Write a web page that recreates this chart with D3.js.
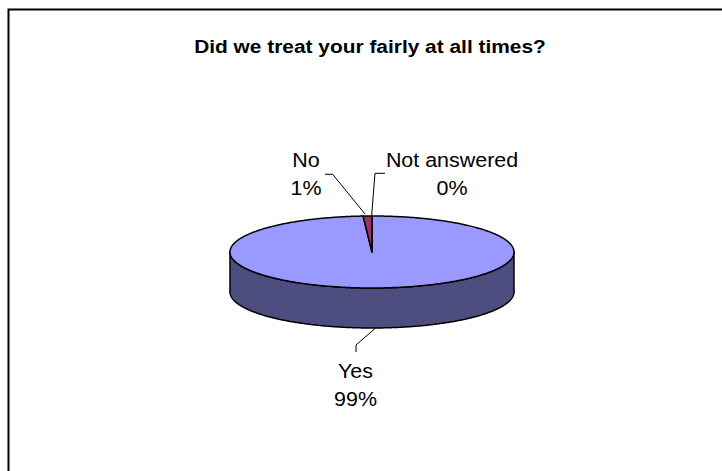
<!DOCTYPE html>
<html><head><meta charset="utf-8">
<script src="https://cdn.jsdelivr.net/npm/d3@7"></script>
<style>html,body{margin:0;padding:0;background:#fff;}svg{display:block;}</style>
</head><body>
<svg id="c" width="722" height="471"></svg>
<script>
const title = "Did we treat your fairly at all times?";
const categories = ["Yes", "No", "Not answered"];
const values = [99, 1, 0];
const percentLabels = ["99%", "1%", "0%"];
const topColors = ["#9999FF", "#993366", "#FFFFCC"];
const sideColors = ["#4D4D80", "#4D1A33", "#808066"];

const svg = d3.select("#c");
const cx = 372, cy = 252, rx = 142, ry = 36, depth = 40;
const FONT = "Arial, 'Liberation Sans', sans-serif";

// frame
svg.append("path").attr("d", "M8.5,480 V9.5 H730").attr("fill", "none")
  .attr("stroke", "#000").attr("stroke-width", 2);

// title
svg.append("text").attr("transform", `translate(370,53) scale(1.13,1)`)
  .attr("text-anchor", "middle").attr("font-family", FONT).attr("font-weight", "bold")
  .attr("font-size", 18.5).attr("fill", "#000").text(title);

const pie = d3.pie().sort(null).value(d => d);
const arcs = pie(values);
const px = a => cx + rx * Math.sin(a);
const py = a => cy - ry * Math.cos(a);

function sample(a0, a1) {
  const n = Math.max(2, Math.ceil(Math.abs(a1 - a0) / 0.01));
  const s = d3.scaleLinear().domain([0, n]).range([a0, a1]);
  return d3.range(n + 1).map(i => s(i));
}
const line = d3.line();

// side walls (front half: PI/2..3PI/2)
const g = svg.append("g");
arcs.forEach((d, i) => {
  const a0 = Math.max(d.startAngle, Math.PI / 2), a1 = Math.min(d.endAngle, 3 * Math.PI / 2);
  if (a1 <= a0) return;
  const top = sample(a0, a1).map(a => [px(a), py(a)]);
  const bot = sample(a1, a0).map(a => [px(a), py(a) + depth]);
  g.append("path").attr("d", line(top.concat(bot)) + "Z")
    .attr("fill", sideColors[i]).attr("stroke", "#000").attr("stroke-width", 1.5)
    .attr("stroke-linejoin", "round");
});
// top faces
arcs.forEach((d, i) => {
  if (d.endAngle - d.startAngle <= 0) return;
  const pts = [[cx, cy]].concat(sample(d.startAngle, d.endAngle).map(a => [px(a), py(a)]));
  g.append("path").attr("d", line(pts) + "Z")
    .attr("fill", topColors[i]).attr("stroke", "#000").attr("stroke-width", 1.5)
    .attr("stroke-linejoin", "round");
});

// labels & leader lines
const labelPos = [
  { x: 355.5, y: 378, leader: [[356, 352], [356, 345], [375, 328.5]] },
  { x: 306, y: 167, leader: [[325, 174.3], [332.7, 174.3], [365, 214]] },
  { x: 452, y: 167, leader: [[385, 173.3], [375, 173.3], [371.7, 215]] }
];
categories.forEach((c, i) => {
  const p = labelPos[i];
  svg.append("path").attr("d", line(p.leader)).attr("fill", "none")
    .attr("stroke", "#000").attr("stroke-width", 1);
  const t = svg.append("text").attr("transform", `translate(${p.x},${p.y}) scale(1.1,1)`)
    .attr("text-anchor", "middle").attr("font-family", FONT).attr("font-size", 19.5).attr("fill", "#000");
  t.append("tspan").attr("x", 0).attr("y", 0).text(c);
  t.append("tspan").attr("x", 0).attr("y", 28).text(percentLabels[i]);
});
</script>
</body></html>
